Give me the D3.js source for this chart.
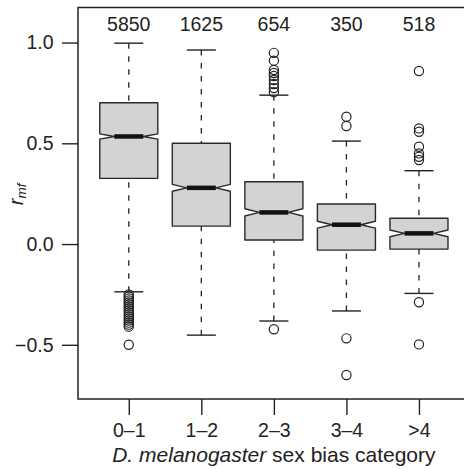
<!DOCTYPE html>
<html>
<head>
<meta charset="utf-8">
<script src="https://cdn.jsdelivr.net/npm/d3@7"></script>
<style>
  html, body { margin: 0; padding: 0; background: #fff; }
  svg { display: block; font-family: "Liberation Sans", Arial, Helvetica, sans-serif; }
  .axis text { font-size: 19.5px; fill: #222; }
  .axis line { stroke: #222; stroke-width: 1.4; }
</style>
</head>
<body>
<div id="chart"></div>
<script>
// Values
const categories = ['0\u20131', '1\u20132', '2\u20133', '3\u20134', '>4'];
const counts = [5850, 1625, 654, 350, 518];
const whiskerLow = [-0.237, -0.452, -0.382, -0.332, -0.245];
const q1 = [0.326, 0.089, 0.020, -0.030, -0.025];
const medians = [0.534, 0.279, 0.157, 0.096, 0.053];
const q3 = [0.701, 0.500, 0.309, 0.199, 0.128];
const whiskerHigh = [0.997, 0.963, 0.739, 0.511, 0.364];
const notchHalf = [0.013, 0.017, 0.018, 0.017, 0.017];
const outliers = [
  [-0.25, -0.26, -0.27, -0.28, -0.29, -0.30, -0.31, -0.32, -0.33, -0.34,
   -0.35, -0.36, -0.37, -0.38, -0.39, -0.40, -0.41, -0.50],
  [],
  [0.949, 0.910, 0.864, 0.849, 0.834, 0.814, 0.794, 0.774, 0.754, -0.423],
  [0.632, 0.586, -0.468, -0.650],
  [0.859, 0.574, 0.557, 0.483, 0.450, 0.433, 0.417, -0.289, -0.498]
];
const yTicks = [-0.5, 0, 0.5, 1.0];

const width = 464, height = 469;
const plotLeft = 78, plotRight = 469.75, plotTop = 7.5, plotBottom = 399;

const svg = d3.select('#chart').append('svg')
  .attr('width', width)
  .attr('height', height);

const x = d3.scaleLinear().domain([0.3, 5.7]).range([plotLeft, plotRight]);
const y = d3.scaleLinear().domain([-0.769, 1.174]).range([plotBottom, plotTop]);

const boxW = x(1.4) - x(1); // half width (boxwex 0.8)

const boxes = categories.map((c, i) => ({
  pos: i + 1, name: c, n: counts[i],
  lo: whiskerLow[i], q1: q1[i], med: medians[i], q3: q3[i], hi: whiskerHigh[i],
  notch: notchHalf[i], out: outliers[i]
}));

// Axes
svg.append('g')
  .attr('class', 'axis')
  .attr('transform', `translate(${plotLeft},0)`)
  .call(d3.axisLeft(y).tickValues(yTicks).tickSize(16).tickPadding(8.5)
    .tickFormat(d3.format('.1f')))
  .call(g => g.select('.domain').remove())
  .call(g => g.attr('font-family', null).attr('font-size', null));

svg.append('g')
  .attr('class', 'axis')
  .attr('transform', `translate(0,${plotBottom})`)
  .call(d3.axisBottom(x).tickValues(boxes.map(b => b.pos)).tickSize(16).tickPadding(8.2)
    .tickFormat((d, i) => categories[i]))
  .call(g => g.select('.domain').remove())
  .call(g => g.attr('font-family', null).attr('font-size', null));

const g = svg.append('g');

const box = g.selectAll('g.box')
  .data(boxes)
  .join('g')
  .attr('class', 'box');

// Dashed whiskers
box.append('line')
  .attr('x1', d => x(d.pos)).attr('x2', d => x(d.pos))
  .attr('y1', d => y(d.hi)).attr('y2', d => y(d.q3))
  .attr('stroke', '#222').attr('stroke-width', 1.3)
  .attr('stroke-dasharray', '5.5,7.5');
box.append('line')
  .attr('x1', d => x(d.pos)).attr('x2', d => x(d.pos))
  .attr('y1', d => y(d.lo)).attr('y2', d => y(d.q1))
  .attr('stroke', '#222').attr('stroke-width', 1.3)
  .attr('stroke-dasharray', '5.5,7.5');

// Staples
box.selectAll('line.staple')
  .data(d => [d.lo, d.hi].map(v => ({ pos: d.pos, v })))
  .join('line')
  .attr('class', 'staple')
  .attr('x1', d => x(d.pos) - boxW / 2).attr('x2', d => x(d.pos) + boxW / 2)
  .attr('y1', d => y(d.v)).attr('y2', d => y(d.v))
  .attr('stroke', '#222').attr('stroke-width', 1.4);

// Notched boxes
box.append('path')
  .attr('d', d => {
    const cx = x(d.pos);
    const pts = [
      [cx - boxW, y(d.q1)],
      [cx - boxW, y(d.med - d.notch)],
      [cx - boxW / 2, y(d.med)],
      [cx - boxW, y(d.med + d.notch)],
      [cx - boxW, y(d.q3)],
      [cx + boxW, y(d.q3)],
      [cx + boxW, y(d.med + d.notch)],
      [cx + boxW / 2, y(d.med)],
      [cx + boxW, y(d.med - d.notch)],
      [cx + boxW, y(d.q1)]
    ];
    return d3.line()(pts) + 'Z';
  })
  .attr('fill', '#d2d3d5')
  .attr('stroke', '#2a2a2a')
  .attr('stroke-width', 1.4)
  .attr('stroke-linejoin', 'round');

// Medians
box.append('line')
  .attr('x1', d => x(d.pos) - boxW / 2).attr('x2', d => x(d.pos) + boxW / 2)
  .attr('y1', d => y(d.med)).attr('y2', d => y(d.med))
  .attr('stroke', '#111').attr('stroke-width', 4.5);

// Outliers
box.selectAll('circle')
  .data(d => d.out.map(v => ({ pos: d.pos, v })))
  .join('circle')
  .attr('cx', d => x(d.pos))
  .attr('cy', d => y(d.v))
  .attr('r', 4.6)
  .attr('fill', 'none')
  .attr('stroke', '#222')
  .attr('stroke-width', 1.2);

// Counts above boxes
svg.append('g')
  .selectAll('text')
  .data(boxes)
  .join('text')
  .attr('x', d => x(d.pos))
  .attr('y', 30.5)
  .attr('text-anchor', 'middle')
  .attr('font-size', 19.5)
  .attr('fill', '#222')
  .text(d => d.n);

// Plot frame
svg.append('rect')
  .attr('x', plotLeft).attr('y', plotTop)
  .attr('width', plotRight - plotLeft).attr('height', plotBottom - plotTop)
  .attr('fill', 'none')
  .attr('stroke', '#222')
  .attr('stroke-width', 1.5);

// Axis titles
const xt = svg.append('text')
  .attr('x', x(3))
  .attr('y', 461.5)
  .attr('text-anchor', 'middle')
  .attr('font-size', 21)
  .attr('fill', '#222');
xt.append('tspan').attr('font-style', 'italic').text('D. melanogaster');
xt.append('tspan').text(' sex bias category');

const yt = svg.append('text')
  .attr('transform', 'translate(22.5,205) rotate(-90)')
  .attr('text-anchor', 'start')
  .attr('font-size', 19.5)
  .attr('font-style', 'italic')
  .attr('fill', '#222');
yt.append('tspan').text('r');
yt.append('tspan').attr('font-size', 13.5).attr('dy', 3).text('mf');
</script>
</body>
</html>
